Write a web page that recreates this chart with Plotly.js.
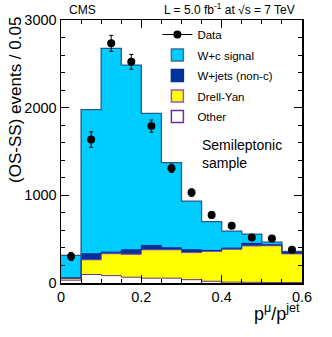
<!DOCTYPE html>
<html>
<head>
<meta charset="utf-8">
<script src="https://cdn.plot.ly/plotly-3.0.1.min.js"></script>
<style>
  html, body { margin: 0; padding: 0; background: #fff; }
  #chart { width: 332px; height: 337px; }
</style>
</head>
<body>
<div id="chart"></div>
<script>
// bins of p_mu / p_jet, width 0.05
const binCenters = [0.025, 0.075, 0.125, 0.175, 0.225, 0.275, 0.325, 0.375, 0.425, 0.475, 0.525, 0.575];
const binEdges = [0, 0.05, 0.1, 0.15, 0.2, 0.25, 0.3, 0.35, 0.4, 0.45, 0.5, 0.55, 0.6];

// stacked MC, bottom to top
const other = [32, 97, 84, 66, 55, 55, 38, 20, 10, 8, 5, 5];
const drellYan = [19, 168, 250, 263, 324, 324, 309, 340, 377, 415, 420, 327];
const wjetsNonC = [8, 69, 18, 50, 50, 23, 32, 12, 11, 29, 12, 15];
const wcSignal = [255, 1644, 2325, 2107, 1507, 972, 556, 328, 194, 106, 29, 13];

// data (OS-SS)
const dataY = [303, 1636, 2734, 2523, 1790, 1308, 1031, 777, 654, 520, 509, 379];
const dataErr = [46, 89, 91, 84, 69, 48, 42, 36, 33, 30, 29, 26];

const FONT = 'Liberation Sans, Arial, Helvetica, sans-serif';

function cumulate(...parts) {
    return binCenters.map((_, i) => parts.reduce((s, p) => s + p[i], 0));
}

function barTrace(y, color) {
    return {
        type: 'bar',
        x: binCenters,
        y: y,
        width: 0.05,
        marker: { color: color, line: { color: color, width: 0.5 } },
        showlegend: false,
        hoverinfo: 'skip'
    };
}

// histogram outline at the top of a stack level
function stepTrace(levels, color, width) {
    return {
        type: 'scatter',
        mode: 'lines',
        x: binEdges,
        y: levels.concat([levels[levels.length - 1]]),
        line: { shape: 'hv', color: color, width: width },
        showlegend: false,
        hoverinfo: 'skip'
    };
}

// empty trace that only makes a legend entry (box with border)
function legendBox(name, fill, border) {
    return {
        type: 'bar',
        x: [null],
        y: [null],
        name: name,
        legendgroup: name,
        marker: { color: fill, line: { color: border, width: 1.5 } },
        hoverinfo: 'skip'
    };
}

const lvlOther = cumulate(other);
const lvlDY = cumulate(other, drellYan);
const lvlWjets = cumulate(other, drellYan, wjetsNonC);
const lvlTotal = cumulate(other, drellYan, wjetsNonC, wcSignal);

const traces = [
    barTrace(other, '#ffffff'),
    barTrace(drellYan, '#ffff00'),
    barTrace(wjetsNonC, '#003399'),
    barTrace(wcSignal, '#00ccff'),
    // legend entries, top to bottom
    {
        type: 'scatter',
        mode: 'lines+markers',
        x: [null],
        y: [null],
        name: 'Data',
        legendgroup: 'Data',
        marker: { color: '#000', size: 8 },
        line: { color: '#000', width: 1 },
        hoverinfo: 'skip'
    },
    legendBox('W+c signal', '#00ccff', '#3a6f9a'),
    legendBox('W+jets (non-c)', '#003399', '#003399'),
    legendBox('Drell-Yan', '#ffff00', '#9955cc'),
    legendBox('Other', '#ffffff', '#663399'),
    stepTrace(lvlOther, '#663399', 1),
    stepTrace(lvlDY, '#8844cc', 1),
    stepTrace(lvlWjets, '#002a80', 1),
    stepTrace(lvlTotal, '#2a5a88', 1.3),
    {
        type: 'scatter',
        mode: 'markers',
        x: binCenters,
        y: dataY,
        marker: { color: '#000', size: 8 },
        error_y: { type: 'data', array: dataErr, color: '#000', thickness: 1, width: 2 },
        showlegend: false,
        hoverinfo: 'skip'
    }
];

const axisCommon = {
    showline: true,
    linecolor: '#000',
    linewidth: 1.5,
    mirror: 'allticks',
    ticks: 'inside',
    ticklen: 8,
    tickcolor: '#000',
    tickwidth: 1,
    showgrid: false,
    zeroline: false,
    fixedrange: true,
    tickfont: { family: FONT, size: 14.5, color: '#000' }
};

const layout = {
    width: 332,
    height: 337,
    margin: { l: 61, r: 30, t: 20, b: 54 },
    paper_bgcolor: '#fff',
    plot_bgcolor: '#fff',
    barmode: 'stack',
    bargap: 0,
    font: { family: FONT, color: '#000' },
    xaxis: {
        ...axisCommon,
        range: [0, 0.6],
        tick0: 0,
        dtick: 0.2,
        minor: { dtick: 0.05, ticks: 'inside', ticklen: 4, tickcolor: '#000' }
    },
    yaxis: {
        ...axisCommon,
        range: [0, 3000],
        tick0: 0,
        dtick: 1000,
        tickformat: 'd',
        minor: { dtick: 200, ticks: 'inside', ticklen: 4, tickcolor: '#000' }
    },
    legend: {
        x: 0.40,
        y: 1.0,
        xanchor: 'left',
        yanchor: 'top',
        traceorder: 'grouped',
        tracegroupgap: 1.5,
        bgcolor: 'rgba(0,0,0,0)',
        font: { family: FONT, size: 11.5, color: '#000' }
    },
    annotations: [
        {
            text: '(OS-SS) events / 0.05',
            textangle: -90,
            xref: 'paper', yref: 'paper',
            x: -0.187, y: 0.696,
            xanchor: 'center', yanchor: 'middle',
            showarrow: false,
            font: { family: FONT, size: 17 }
        },
        {
            text: 'p<sup>μ</sup>/p<sup>jet</sup>',
            xref: 'paper', yref: 'paper',
            x: 1, y: 0,
            xanchor: 'right', yanchor: 'top',
            yshift: -16,
            showarrow: false,
            font: { family: FONT, size: 18 }
        },
        {
            text: 'CMS',
            xref: 'paper', yref: 'paper',
            x: 0.025, y: 1,
            xanchor: 'left', yanchor: 'bottom',
            yshift: 1,
            showarrow: false,
            font: { family: FONT, size: 12 }
        },
        {
            text: 'L = 5.0 fb<sup>-1</sup> at √s = 7 TeV',
            xref: 'paper', yref: 'paper',
            x: 0.979, y: 1,
            xanchor: 'right', yanchor: 'bottom',
            yshift: 1,
            showarrow: false,
            font: { family: FONT, size: 12 }
        },
        {
            text: 'Semileptonic<br>sample',
            xref: 'paper', yref: 'paper',
            x: 0.577, y: 0.49,
            xanchor: 'left', yanchor: 'middle',
            align: 'left',
            showarrow: false,
            font: { family: FONT, size: 14 }
        }
    ]
};

Plotly.newPlot('chart', traces, layout, { staticPlot: true, displayModeBar: false });
</script>
</body>
</html>
